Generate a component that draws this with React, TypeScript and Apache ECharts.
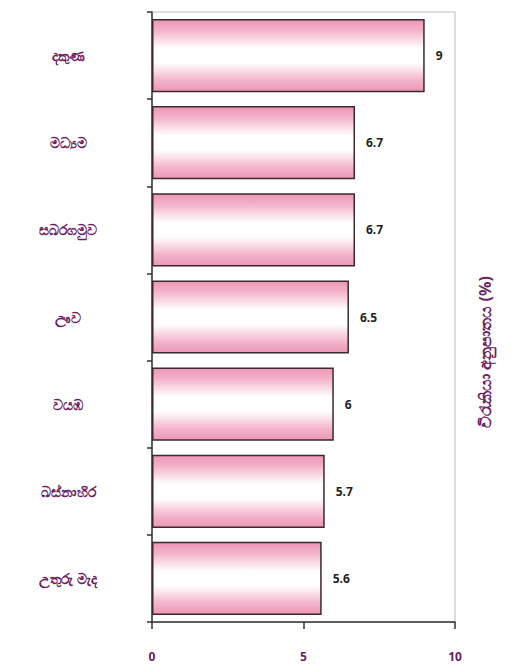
import React, { useEffect, useRef } from "react";
import * as echarts from "echarts";

const categories = ["දකුණ", "මධ්‍යම", "සබරගමුව", "ඌව", "වයඹ", "බස්නාහිර", "උතුරු මැද"];
const values = [9, 6.7, 6.7, 6.5, 6, 5.7, 5.6];
const xTicks = [0, 5, 10];
const axisTitle = "විරැකියා අනුපාතය (%)";

export default function App() {
  const ref = useRef<HTMLDivElement>(null);
  useEffect(() => {
    const chart = echarts.init(ref.current!, null, { renderer: "svg" });
    const font = "'Noto Sans', 'DejaVu Sans', sans-serif";
    chart.setOption({
      animation: false,
      backgroundColor: "#ffffff",
      grid: {
        left: 152,
        top: 12,
        right: 59,
        bottom: 46,
        show: true,
        borderColor: "#b8c0c8",
        borderWidth: 1,
      },
      xAxis: {
        type: "value",
        min: xTicks[0],
        max: xTicks[xTicks.length - 1],
        interval: 5,
        splitLine: { show: false },
        axisLine: { show: true, lineStyle: { color: "#333", width: 1.5 } },
        axisTick: { show: true, length: 7, lineStyle: { color: "#333", width: 1.5 } },
        axisLabel: { margin: 28, color: "#6b2062", fontSize: 12, fontWeight: "bold", fontFamily: font },
      },
      yAxis: {
        type: "category",
        data: categories,
        inverse: true,
        axisLine: { show: true, lineStyle: { color: "#333", width: 1.5 } },
        axisTick: { show: true, length: 5, lineStyle: { color: "#333", width: 1.5 } },
        axisLabel: {
          align: "center",
          margin: 84,
          padding: [8, 0, 0, 0],
          color: "#6b2062",
          fontSize: 14,
          fontWeight: "bold",
          fontFamily: font,
        },
      },
      series: [
        {
          type: "bar",
          data: values,
          barCategoryGap: "16%",
          itemStyle: {
            borderColor: "#3a2a2e",
            borderWidth: 1.5,
            color: new echarts.graphic.LinearGradient(0, 0, 0, 1, [
              { offset: 0, color: "#ec96b6" },
              { offset: 0.15, color: "#f3b3ca" },
              { offset: 0.4, color: "#ffffff" },
              { offset: 0.6, color: "#ffffff" },
              { offset: 0.85, color: "#f3b3ca" },
              { offset: 1, color: "#ec96b6" },
            ]),
          },
          label: {
            show: true,
            position: "right",
            distance: 11,
            color: "#222",
            fontSize: 12,
            fontWeight: "bold",
            fontFamily: font,
          },
        },
      ],
      graphic: [
        {
          type: "text",
          x: 485,
          y: 352,
          rotation: Math.PI / 2,
          style: {
            text: axisTitle,
            align: "center",
            verticalAlign: "middle",
            fill: "#6b2062",
            fontSize: 16,
            fontWeight: "bold",
            fontFamily: font,
          },
        },
      ],
    });
    return () => chart.dispose();
  }, []);
  return <div ref={ref} style={{ width: 514, height: 668, position: "absolute", left: 0, top: 0 }} />;
}
